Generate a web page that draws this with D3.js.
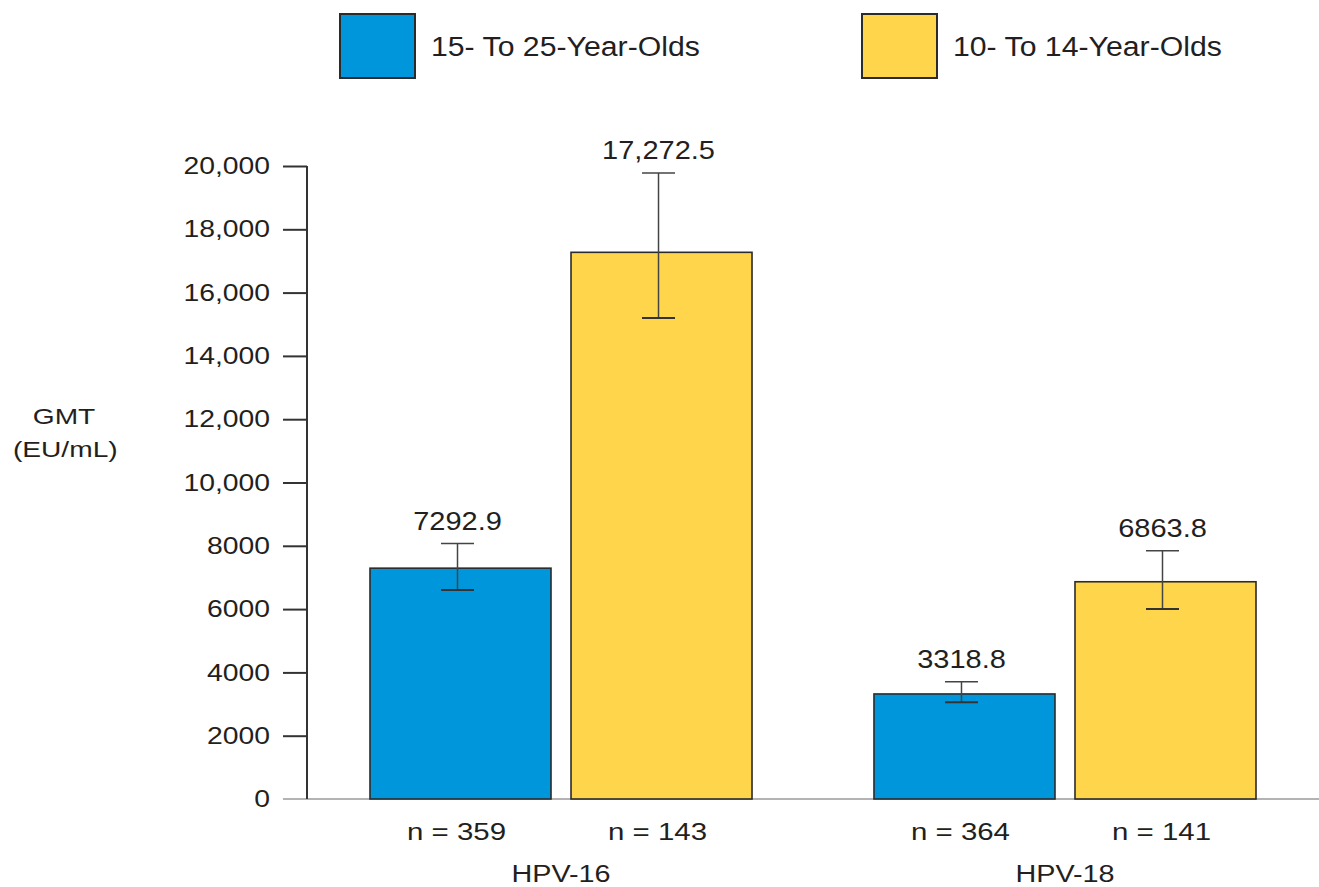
<!DOCTYPE html>
<html>
<head>
<meta charset="utf-8">
<script src="https://cdn.jsdelivr.net/npm/d3@7"></script>
<style>
  html, body { margin: 0; padding: 0; background: #fff; }
  text { font-family: "Liberation Sans", Arial, Helvetica, sans-serif; fill: #231f20; }
</style>
</head>
<body>
<svg id="chart" width="1319" height="887"></svg>
<script>
// ---- data ----
const groups = ["HPV-16", "HPV-18"];
const series = ["15- To 25-Year-Olds", "10- To 14-Year-Olds"];
const seriesColors = ["#0096db", "#ffd64b"];
const gmtHPV16 = [7292.9, 17272.5];
const gmtHPV18 = [3318.8, 6863.8];
const ciLowHPV16 = [6600, 15200];
const ciHighHPV16 = [8070, 19780];
const ciLowHPV18 = [3055, 6000];
const ciHighHPV18 = [3706, 7845];
const valueLabelsHPV16 = ["7292.9", "17,272.5"];
const valueLabelsHPV18 = ["3318.8", "6863.8"];
const nHPV16 = [359, 143];
const nHPV18 = [364, 141];
const yTicks = [0, 2000, 4000, 6000, 8000, 10000, 12000, 14000, 16000, 18000, 20000];

const rows = [];
groups.forEach((g, gi) => {
  const gmt = gi === 0 ? gmtHPV16 : gmtHPV18;
  const lo = gi === 0 ? ciLowHPV16 : ciLowHPV18;
  const hi = gi === 0 ? ciHighHPV16 : ciHighHPV18;
  const lab = gi === 0 ? valueLabelsHPV16 : valueLabelsHPV18;
  const nn = gi === 0 ? nHPV16 : nHPV18;
  series.forEach((s, si) => rows.push({group: g, series: s, si, value: gmt[si], lo: lo[si], hi: hi[si], label: lab[si], n: nn[si]}));
});

const svg = d3.select("#chart");
const axisX = 307, baseY = 799, topY = 166;

const y = d3.scaleLinear().domain([0, 20000]).range([baseY, topY]);
const x0 = d3.scaleBand().domain(groups).range([axisX, 1319]).paddingInner(0.242).paddingOuter(0.125);
const x1 = d3.scaleBand().domain(series).range([0, x0.bandwidth()]).paddingInner(0.0995);
const color = d3.scaleOrdinal().domain(series).range(seriesColors);

// baseline (gray, extends across)
svg.append("line")
  .attr("x1", axisX - 24).attr("x2", 1319)
  .attr("y1", baseY).attr("y2", baseY)
  .attr("stroke", "#9a9a9a").attr("stroke-width", 1.5);

// y axis
const fmt = d => d >= 10000 ? d3.format(",")(d) : d3.format("d")(d);
const yAxis = d3.axisLeft(y).tickValues(yTicks).tickFormat(fmt).tickSize(24).tickPadding(13);
const gy = svg.append("g").attr("transform", `translate(${axisX},0)`).call(yAxis);
gy.select(".domain").attr("stroke", "#333").attr("stroke-width", 2)
  .attr("d", `M0,${topY}V${baseY}`);
gy.selectAll(".tick line").attr("stroke", "#333").attr("stroke-width", 2);
gy.selectAll(".tick").filter(d => d === 0).select("line").remove();
const tickScale = 1.18;
gy.selectAll(".tick text")
  .attr("font-size", 24)
  .attr("font-family", "Liberation Sans, Arial, sans-serif")
  .attr("fill", "#231f20")
  .attr("transform", `scale(${tickScale},1)`)
  .attr("x", -37 / tickScale);

// y axis title
const yt = svg.append("g").attr("transform", "translate(64,0) scale(1.28,1)");
yt.append("text").attr("text-anchor", "middle").attr("font-size", 22).attr("x", 0).attr("y", 424).text("GMT");
yt.append("text").attr("text-anchor", "middle").attr("font-size", 22).attr("x", 1).attr("y", 457).text("(EU/mL)");

// bars
const gGroups = svg.selectAll("g.grp").data(groups).enter().append("g")
  .attr("class", "grp").attr("transform", d => `translate(${x0(d)},0)`);

gGroups.selectAll("rect").data(g => rows.filter(r => r.group === g)).enter().append("rect")
  .attr("x", d => x1(d.series))
  .attr("y", d => y(d.value))
  .attr("width", x1.bandwidth())
  .attr("height", d => y(0) - y(d.value))
  .attr("fill", d => color(d.series))
  .attr("stroke", "#2b2b2b").attr("stroke-width", 1.6);

// error bars
const capW = 33;
const eb = gGroups.selectAll("g.err").data(g => rows.filter(r => r.group === g)).enter().append("g")
  .attr("class", "err")
  .attr("transform", d => `translate(${x1(d.series) + x1.bandwidth() / 2 - 3},0)`);
eb.append("line").attr("x1", 0).attr("x2", 0).attr("y1", d => y(d.hi)).attr("y2", d => y(d.lo))
  .attr("stroke", "#444").attr("stroke-width", 1.5);
eb.append("line").attr("x1", -capW / 2).attr("x2", capW / 2).attr("y1", d => y(d.hi)).attr("y2", d => y(d.hi))
  .attr("stroke", "#444").attr("stroke-width", 1.5);
eb.append("line").attr("x1", -capW / 2).attr("x2", capW / 2).attr("y1", d => y(d.lo)).attr("y2", d => y(d.lo))
  .attr("stroke", "#333").attr("stroke-width", 2);

// value labels
eb.append("text")
  .attr("text-anchor", "middle")
  .attr("font-size", 25)
  .attr("transform", d => `translate(0,${y(d.hi) - 14}) scale(1.16,1)`)
  .text(d => d.label);

// n labels
gGroups.selectAll("text.n").data(g => rows.filter(r => r.group === g)).enter().append("text")
  .attr("class", "n")
  .attr("text-anchor", "middle")
  .attr("font-size", 23)
  .attr("transform", d => `translate(${x1(d.series) + x1.bandwidth() / 2 - 4},840) scale(1.28,1)`)
  .text(d => `n = ${d.n}`);

// group labels
gGroups.append("text")
  .attr("text-anchor", "middle")
  .attr("font-size", 24)
  .attr("transform", `translate(${x0.bandwidth() / 2},882) scale(1.2,1)`)
  .text(d => d);

// legend
const legendX = [340, 862];
const lg = svg.selectAll("g.leg").data(series).enter().append("g")
  .attr("class", "leg").attr("transform", (d, i) => `translate(${legendX[i]},14)`);
lg.append("rect").attr("width", 75).attr("height", 64)
  .attr("fill", d => color(d)).attr("stroke", "#2b2b2b").attr("stroke-width", 2);
lg.append("text").attr("font-size", 27)
  .attr("transform", "translate(91,42) scale(1.12,1)")
  .text(d => d);
</script>
</body>
</html>
